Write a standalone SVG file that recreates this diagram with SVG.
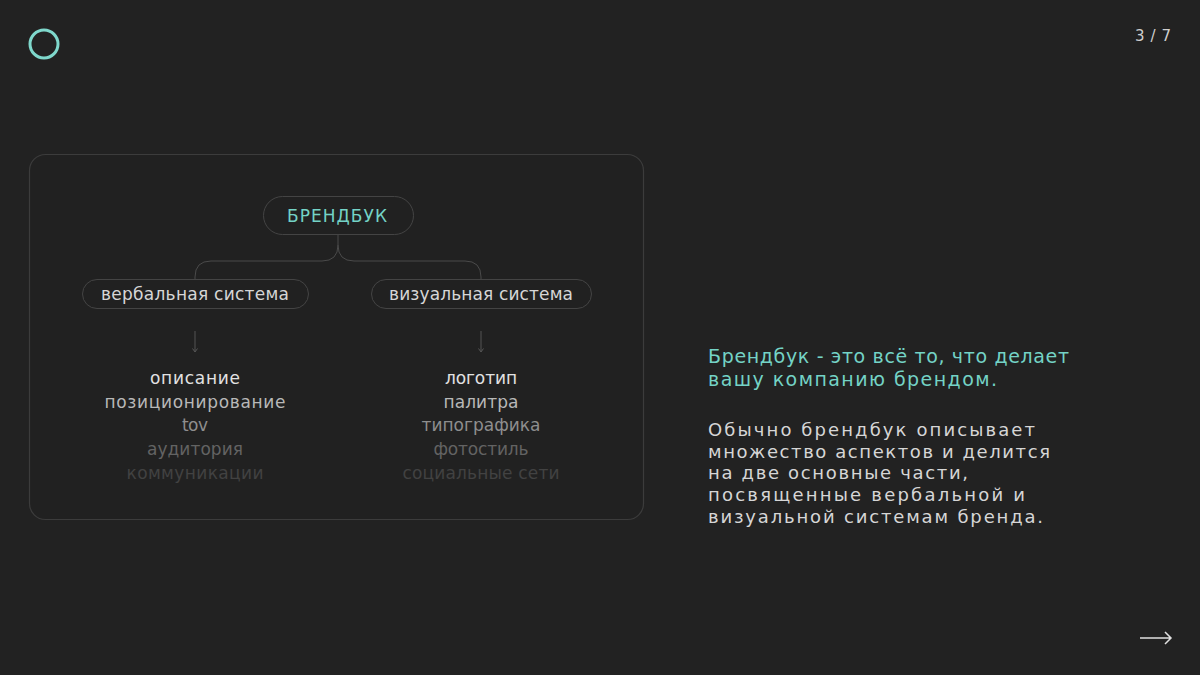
<svg xmlns="http://www.w3.org/2000/svg" width="1200" height="675" viewBox="0 0 1200 675">
<style>
text{font-family:"DejaVu Sans","Open Sans",sans-serif}
.pill{fill:none;stroke:#444;stroke-width:1}
.lbl{font-size:17px;fill:#d6d6d6;text-anchor:middle}
.li{font-size:17px;text-anchor:middle}
.conn{fill:none;stroke:#4a4a4a;stroke-width:1}
.small{fill:none;stroke:#555;stroke-width:1}
.teal{fill:#74d3c6}
.para{font-size:18px;fill:#d6d6d6}
</style>
<rect width="1200" height="675" fill="#222222"/>
<circle cx="44" cy="44" r="14" fill="none" stroke="#7fd8cc" stroke-width="3"/>
<text x="1135" y="41" font-size="15" fill="#cfcfcf" textLength="36" lengthAdjust="spacing">3 / 7</text>
<rect x="29.5" y="154.5" width="614" height="365" rx="16" fill="#212121" stroke="#3c3c3c" stroke-width="1.2"/>
<g id="connectors">
<path class="conn" d="M338 235 V245 Q338 261 322 261 H211 Q195 261 195 277 V279"/>
<path class="conn" d="M338 245 Q338 261 354 261 H465 Q481 261 481 277 V279"/>
<path class="small" d="M195 331 V352 M192.5 348.5 L195 352 L197.5 348.5"/>
<path class="small" d="M481 331 V352 M478.5 348.5 L481 352 L483.5 348.5"/>
</g>
<g id="brandbook">
<rect class="pill" x="263.5" y="196.5" width="150" height="38" rx="19"/>
<text x="287" y="222" font-size="17" class="teal" textLength="100" lengthAdjust="spacing">БРЕНДБУК</text>
</g>
<g id="verbal">
<rect class="pill" x="82.5" y="279.5" width="226" height="29" rx="14.5"/>
<text class="lbl" x="195" y="300" textLength="188" lengthAdjust="spacing">вербальная система</text>
</g>
<g id="visual">
<rect class="pill" x="371.5" y="279.5" width="220" height="29" rx="14.5"/>
<text class="lbl" x="481" y="300" textLength="184" lengthAdjust="spacing">визуальная система</text>
</g>
<g id="verbal-list">
<text class="li" x="195" y="384" fill="#e2e2e2" textLength="90" lengthAdjust="spacing">описание</text>
<text class="li" x="195" y="408" fill="#b8b8b8" textLength="181" lengthAdjust="spacing">позиционирование</text>
<text class="li" x="195" y="431" fill="#8e8e8e" textLength="26" lengthAdjust="spacing">tov</text>
<text class="li" x="195" y="455" fill="#636363" textLength="96" lengthAdjust="spacing">аудитория</text>
<text class="li" x="195" y="479" fill="#424242" textLength="137" lengthAdjust="spacing">коммуникации</text>
</g>
<g id="visual-list">
<text class="li" x="481" y="384" fill="#e2e2e2" textLength="72" lengthAdjust="spacing">логотип</text>
<text class="li" x="481" y="408" fill="#b8b8b8" textLength="75" lengthAdjust="spacing">палитра</text>
<text class="li" x="481" y="431" fill="#8e8e8e" textLength="119" lengthAdjust="spacing">типографика</text>
<text class="li" x="481" y="455" fill="#636363" textLength="95" lengthAdjust="spacing">фотостиль</text>
<text class="li" x="481" y="479" fill="#424242" textLength="157" lengthAdjust="spacing">социальные сети</text>
</g>
<g id="description">
<text class="teal" font-size="19" x="708" y="363" textLength="361" lengthAdjust="spacing">Брендбук - это всё то, что делает</text>
<text class="teal" font-size="19" x="708" y="386" textLength="289" lengthAdjust="spacing">вашу компанию брендом.</text>
<text class="para" x="708" y="436" textLength="327" lengthAdjust="spacing">Обычно брендбук описывает</text>
<text class="para" x="708" y="458" textLength="342" lengthAdjust="spacing">множество аспектов и делится</text>
<text class="para" x="708" y="479" textLength="260" lengthAdjust="spacing">на две основные части,</text>
<text class="para" x="708" y="501" textLength="317" lengthAdjust="spacing">посвященные вербальной и</text>
<text class="para" x="708" y="523" textLength="335" lengthAdjust="spacing">визуальной системам бренда.</text>
</g>
<path d="M1140 638 H1171 M1165 632 L1171 638 L1165 644" fill="none" stroke="#e0e0e0" stroke-width="1.5"/>
</svg>
